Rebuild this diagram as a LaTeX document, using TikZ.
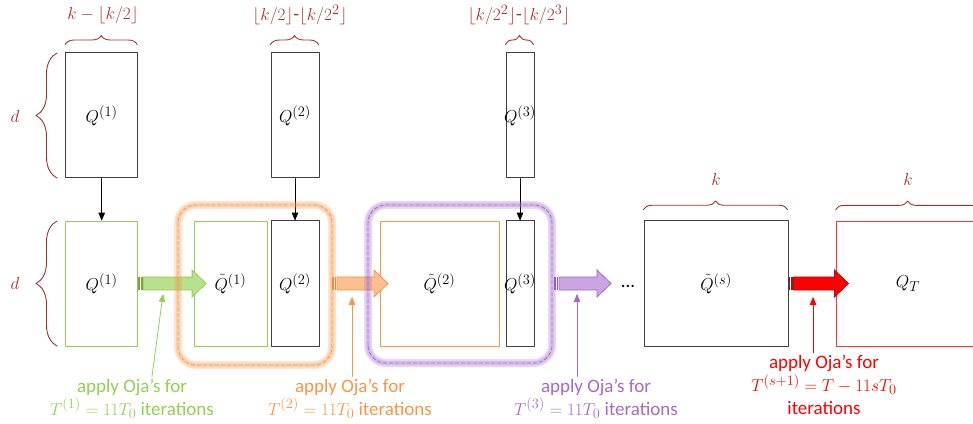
\documentclass[tikz,border=0pt]{standalone}
\usepackage{amsmath}
\usepackage{fontspec}
\setmainfont{Carlito}
\usetikzlibrary{arrows,decorations.pathreplacing}
\definecolor{braceRed}{RGB}{160,50,45}
\definecolor{ojaGreen}{RGB}{146,208,80}
\definecolor{ojaOrange}{RGB}{247,150,70}
\definecolor{ojaPurple}{RGB}{165,105,205}
\definecolor{ojaRed}{RGB}{255,0,0}
\definecolor{tailRed}{RGB}{150,25,25}
\definecolor{boxGray}{RGB}{64,64,64}

\tikzset{
	mbox/.style={draw=boxGray,line width=1pt,minimum height=125pt,inner sep=0pt},
	gbox/.style={mbox,draw=ojaGreen,line width=0.8pt},
	obox/.style={mbox,draw=ojaOrange,line width=0.8pt},
	rbox/.style={mbox,draw=ojaRed!80,line width=0.8pt},
	dimbrace/.style={decorate,decoration={brace,amplitude=#1},draw=braceRed,line width=0.9pt},
	dimlabel/.style={text=braceRed},
	halo/.style={rounded corners=18pt,draw=#1,line width=8pt,draw opacity=0.25,
		preaction={draw=#1,draw opacity=0.25,line width=4.5pt},
		postaction={draw=#1,draw opacity=0.9,line width=0.9pt,dash pattern=on 3.5pt off 2.5pt}},
	note/.style={align=center,inner sep=2pt}
}

% fat striped arrow: start, length, outline, fill, stripes
\newcommand{\ojaarrow}[5]{%
	\begin{scope}[shift={(#1)}]
		\filldraw[draw=#3,fill=#4,line width=0.8pt,line join=miter] (5,-6.5) -- (#2-14,-6.5) -- (#2-14,-13.5) -- (#2,0)
			-- (#2-14,13.5) -- (#2-14,6.5) -- (5,6.5) -- cycle;
		\fill[#5] (0,-6.5) rectangle (1.6,6.5);
		\fill[#5] (2.6,-6.5) rectangle (4.4,6.5);
	\end{scope}}

\begin{document}
\begin{tikzpicture}[line cap=round,line join=round,>=triangle 45,x=1pt,y=1pt]
		\useasboundingbox (0,0) rectangle (973,423);
		\clip (0,0) rectangle (973,423);
		\fontsize{19}{23}\selectfont
		% upper row
		\node[mbox,minimum width=72pt] (Q1t) at (101.7,307.5) {$Q^{(1)}$};
		\node[mbox,minimum width=48pt] (Q2t) at (295,307.5) {$Q^{(2)}$};
		\node[mbox,minimum width=28pt,label={center:$Q^{(3)}$}] (Q3t) at (520,307.5) {};
		% lower row
		\node[gbox,minimum width=72pt] (Q1b) at (101.7,139.5) {$Q^{(1)}$};
		\node[gbox,minimum width=73pt] (Qt1) at (230.5,139.5) {$\tilde{Q}^{(1)}$};
		\node[mbox,minimum width=48pt] (Q2b) at (295,139.5) {$Q^{(2)}$};
		\node[obox,minimum width=119pt] (Qt2) at (439.5,139.5) {$\tilde{Q}^{(2)}$};
		\node[mbox,minimum width=28pt,label={center:$Q^{(3)}$}] (Q3b) at (520,139.5) {};
		\node[mbox,minimum width=144pt] (Qts) at (716,139.5) {$\tilde{Q}^{(s)}$};
		\node[rbox,minimum width=144pt] (QT) at (908,139.5) {$Q_T$};
		\node (dots) at (628,137) {...};
		% copies going down
		\draw[->,line width=0.8pt] (Q1t) -- (Q1b);
		\draw[->,line width=0.8pt] (Q2t) -- (Q2b);
		\draw[->,line width=0.8pt] (Q3t) -- (Q3b);
		% braces
		\draw[dimbrace=21pt] (57,245) -- (57,370);
		\draw[dimbrace=21pt] (57,77) -- (57,202);
		\node[dimlabel] (dtop) at (15,306) {$d$};
		\node[dimlabel] (dbot) at (15,140) {$d$};
		\draw[dimbrace=9pt] (Q1t.north west) ++(0,8) -- ++(72,0);
		\draw[dimbrace=9pt] (Q2t.north west) ++(0,8) -- ++(48,0);
		\draw[dimbrace=9pt] (Q3t.north west) ++(0,8) -- ++(28,0);
		\draw[dimbrace=8.5pt] (Qts.north west) ++(0,11) -- ++(144,0);
		\draw[dimbrace=8.5pt] (QT.north west) ++(0,11) -- ++(144,0);
		\node[dimlabel] (w1) at (103,408) {$k-\lfloor k/2\rfloor$};
		\node[dimlabel] (w2) at (300,408) {$\lfloor k/2\rfloor$-$\lfloor k/2^2\rfloor$};
		\node[dimlabel] (w3) at (519,408) {$\lfloor k/2^2\rfloor$-$\lfloor k/2^3\rfloor$};
		\node[dimlabel] (ws) at (716,243) {$k$};
		\node[dimlabel] (wT) at (908,243) {$k$};
		% iteration arrows
		\coordinate (orangeout) at (332,139.5);
		\coordinate (purpleout) at (554,139.5);
		\ojaarrow{Q1b.east}{68}{ojaGreen}{ojaGreen!65}{ojaGreen!80!black}
		\ojaarrow{orangeout}{56}{ojaOrange}{ojaOrange!60}{ojaOrange!90!black}
		\ojaarrow{purpleout}{57}{ojaPurple}{ojaPurple!60}{ojaPurple!85!black}
		\ojaarrow{Qts.east}{60}{tailRed}{ojaRed}{tailRed}
		% groups
		\draw[halo=ojaOrange] (178,58) rectangle (332,218);
		\draw[halo=ojaPurple] (368,60) rectangle (552,218);
		% notes
		\node[note,text=ojaGreen] (ngreen) at (132,24.5) {apply Oja’s for\\ $T^{(1)}=11T_0$ iterations};
		\node[note,text=ojaOrange] (norange) at (350,24.5) {apply Oja’s for\\ $T^{(2)}=11T_0$ iterations};
		\node[note,text=ojaPurple] (npurple) at (596,24.5) {apply Oja’s for\\ $T^{(3)}=11T_0$ iterations};
		\node[note,text=ojaRed] (nred) at (824,38) {apply Oja’s for\\ $T^{(s+1)}=T-11sT_0$\\ iterations};
		\coordinate (gtip) at (163,129);
		\coordinate (otip) at (352,126);
		\coordinate (ptip) at (577,129);
		\coordinate (rtip) at (813,126);
		\draw[->,ojaGreen,line width=0.8pt] ([xshift=20pt]ngreen.north) -- (gtip);
		\draw[->,ojaOrange,line width=0.8pt] ([xshift=2pt]norange.north) -- (otip);
		\draw[->,ojaPurple,line width=0.8pt] ([xshift=-19pt]npurple.north) -- (ptip);
		\draw[->,ojaRed,line width=0.8pt] ([xshift=-11pt]nred.north) -- (rtip);
	\end{tikzpicture}
\end{document}
